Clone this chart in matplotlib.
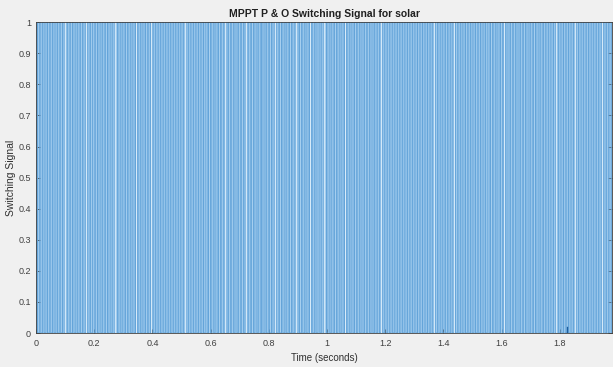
import numpy as np
import matplotlib
matplotlib.use('Agg')
import matplotlib.pyplot as plt

# switching signal parameters (PWM from P&O MPPT)
switch_period = 0.0114
t_end = 2.0
duty_cycle = [0.46, 0.55, 0.5, 0.58, 0.43, 0.56, 0.51, 0.47, 0.57, 0.52]

# times where the switch stays off a little longer (visible light gaps)
off_gaps = [0.099, 0.172, 0.271, 0.343, 0.395, 0.511, 0.648, 0.720, 0.820, 0.892,
            0.940, 0.991, 1.063, 1.187, 1.369, 1.437, 1.609, 1.787, 1.852, 1.945]

# small spike near the end
spike_t = 1.825
spike_h = 0.02

x_ticks = [0, 0.2, 0.4, 0.6, 0.8, 1.0, 1.2, 1.4, 1.6, 1.8]
x_ticklabels = ['0', '0.2', '0.4', '0.6', '0.8', '1', '1.2', '1.4', '1.6', '1.8']
y_ticks = [0, 0.1, 0.2, 0.3, 0.4, 0.5, 0.6, 0.7, 0.8, 0.9, 1.0]
y_ticklabels = ['0', '0.1', '0.2', '0.3', '0.4', '0.5', '0.6', '0.7', '0.8', '0.9', '1']

# build the square wave: one duty value per equal time segment
n_periods = int(round(t_end / switch_period))
seg_len = n_periods // len(duty_cycle)
t, s = [], []
for k in range(n_periods):
    d = duty_cycle[min(k // seg_len, len(duty_cycle) - 1)]
    t0 = k * switch_period
    t += [t0, t0, t0 + d * switch_period, t0 + d * switch_period]
    s += [0, 1, 1, 0]

plt.rcParams['font.family'] = ['Liberation Sans', 'DejaVu Sans']

fig = plt.figure(figsize=(6.13, 3.67), dpi=100, facecolor='#f0f0f0')
ax = fig.add_axes([0.0587, 0.0926, 0.94, 0.847])
ax.set_facecolor('#aed4f2')

ax.plot(t, s, color='#62a3d9', linewidth=0.7, snap=False)
for g in off_gaps:
    ax.axvline(g, color='#e2f1fc', linewidth=0.6, zorder=3)
ax.plot([spike_t, spike_t], [0, spike_h], color='#1f5f9f', linewidth=1.0, zorder=4)

ax.set_xlim(0, 1.98)
ax.set_ylim(0, 1)
ax.set_xticks(x_ticks)
ax.set_xticklabels(x_ticklabels)
ax.set_yticks(y_ticks)
ax.set_yticklabels(y_ticklabels)
ax.tick_params(direction='in', length=3, width=0.6, colors='#404040', labelsize=6.5,
               top=False, right=True)
ax.tick_params(axis='x', pad=4)
for sp in ax.spines.values():
    sp.set_color('#404040')
    sp.set_linewidth(0.6)
    sp.set_zorder(5)

ax.set_title('MPPT P & O Switching Signal for solar', fontsize=7.5, fontweight='bold',
             color='#202020', pad=4)
ax.set_xlabel('Time (seconds)', fontsize=7, color='#303030', labelpad=4)
ax.set_ylabel('Switching Signal', fontsize=7.5, color='#303030', labelpad=2)

fig.savefig('out.png', dpi=100, facecolor=fig.get_facecolor())
